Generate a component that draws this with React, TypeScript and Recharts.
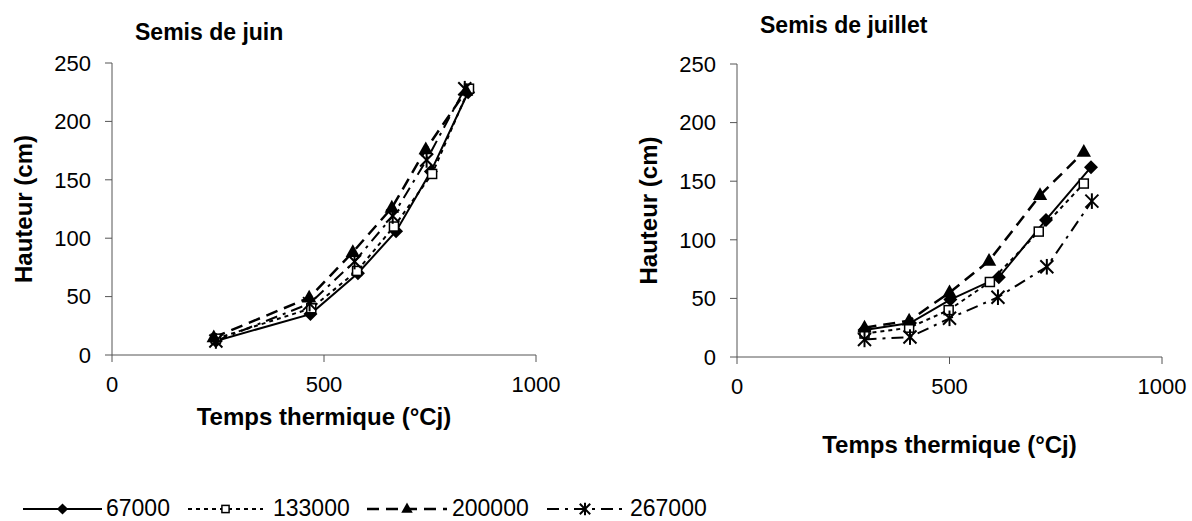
import React from "react";
import { LineChart, Line, XAxis, YAxis } from "recharts";

const FONT = '"Liberation Sans", Arial, sans-serif';
const INK = "#000000";
const AXIS = "#555555";

// Temps thermique (°Cj) et hauteur (cm) — semis de juin
const juinTT67 = [245, 468, 580, 670, 752, 840];
const juinH67 = [12, 35, 70, 106, 157, 225];
const juinTT133 = [245, 470, 578, 665, 755, 842];
const juinH133 = [14, 40, 72, 110, 155, 228];
const juinTT200 = [240, 465, 568, 660, 740, 835];
const juinH200 = [15, 49, 88, 126, 176, 226];
const juinTT267 = [245, 466, 572, 662, 742, 832];
const juinH267 = [12, 44, 80, 119, 167, 228];

// semis de juillet
const juilTT67 = [300, 407, 502, 616, 727, 833];
const juilH67 = [23, 29, 49, 68, 117, 162];
const juilTT133 = [300, 405, 498, 595, 710, 816];
const juilH133 = [20, 25, 40, 64, 107, 148];
const juilTT200 = [300, 405, 500, 593, 713, 816];
const juilH200 = [25, 31, 55, 82, 138, 175];
const juilTT267 = [300, 407, 500, 614, 729, 835];
const juilH267 = [15, 17, 33, 51, 77, 133];

const X_TICKS = [0, 500, 1000];
const Y_TICKS = [0, 50, 100, 150, 200, 250];
const DENSITIES = ["67000", "133000", "200000", "267000"];

const zip = (xs: number[], ys: number[]) => xs.map((x, i) => ({ x, y: ys[i] }));

type MarkerKind = "diamond" | "square" | "triangle" | "star";

function Marker({ kind, cx, cy, s = 1 }: { kind: MarkerKind; cx: number; cy: number; s?: number }) {
  if (kind === "diamond") {
    const r = 7 * s;
    return <path d={`M${cx},${cy - r}L${cx + r},${cy}L${cx},${cy + r}L${cx - r},${cy}Z`} fill={INK} />;
  }
  if (kind === "square") {
    const r = 4.5 * s;
    return <rect x={cx - r} y={cy - r} width={2 * r} height={2 * r} fill="#fff" stroke={INK} strokeWidth={1.5} />;
  }
  if (kind === "triangle") {
    const r = 8 * s;
    return <path d={`M${cx},${cy - r}L${cx + r * 0.9},${cy + r * 0.6}L${cx - r * 0.9},${cy + r * 0.6}Z`} fill={INK} />;
  }
  const r = 6.5 * s;
  return (
    <g stroke={INK} strokeWidth={2}>
      <line x1={cx - r} y1={cy - r} x2={cx + r} y2={cy + r} />
      <line x1={cx - r} y1={cy + r} x2={cx + r} y2={cy - r} />
      <line x1={cx} y1={cy - r * 1.2} x2={cx} y2={cy + r * 1.2} />
    </g>
  );
}

const SERIES: { kind: MarkerKind; dash?: string; width: number }[] = [
  { kind: "diamond", width: 2 },
  { kind: "square", dash: "4 4", width: 2 },
  { kind: "triangle", dash: "12 7", width: 2.5 },
  { kind: "star", dash: "12 6 3 6", width: 2 },
];

const dotFor = (kind: MarkerKind) => (p: any) => (
  <g key={`${kind}-${p.index}`}>
    <Marker kind={kind} cx={p.cx} cy={p.cy} />
  </g>
);

const tickStyle = { fill: INK, fontSize: 22, fontFamily: FONT };
const labelStyle = { fill: INK, fontSize: 24, fontWeight: 700, fontFamily: FONT, textAnchor: "middle" as const };

function Panel({ data, margin, xLabelOffset }: {
  data: { x: number; y: number }[][];
  margin: { top: number; right: number; left: number; bottom: number };
  xLabelOffset: number;
}) {
  return (
    <LineChart width={580} height={470} margin={margin}>
      <XAxis
        type="number" dataKey="x" domain={[0, 1000]} ticks={X_TICKS} height={70}
        tickSize={7} tickMargin={14} stroke={AXIS} tick={tickStyle}
        label={{ value: "Temps thermique (°Cj)", position: "insideBottom", offset: xLabelOffset, style: labelStyle }}
      />
      <YAxis
        type="number" domain={[0, 250]} ticks={Y_TICKS} width={70}
        tickSize={7} tickMargin={14} stroke={AXIS} tick={tickStyle}
        label={{ value: "Hauteur (cm)", angle: -90, position: "insideLeft", offset: -19, style: labelStyle }}
      />
      {SERIES.map((s, i) => (
        <Line
          key={DENSITIES[i]} data={data[i]} dataKey="y" name={DENSITIES[i]}
          stroke={INK} strokeWidth={s.width} strokeDasharray={s.dash}
          dot={dotFor(s.kind)} activeDot={false} isAnimationActive={false}
        />
      ))}
    </LineChart>
  );
}

export default function App() {
  const juin = [zip(juinTT67, juinH67), zip(juinTT133, juinH133), zip(juinTT200, juinH200), zip(juinTT267, juinH267)];
  const juil = [zip(juilTT67, juilH67), zip(juilTT133, juilH133), zip(juilTT200, juilH200), zip(juilTT267, juilH267)];

  // légende : trait, marqueur, texte
  const legend = [
    { x1: 23, x2: 102, text: 106 },
    { x1: 188, x2: 263, text: 273 },
    { x1: 367, x2: 447, text: 452 },
    { x1: 547, x2: 623, text: 630 },
  ];

  return (
    <div style={{ position: "fixed", left: 0, top: 0, width: 1192, height: 521, background: "#fff", fontFamily: FONT }}>
      <div style={{ position: "absolute", left: 0, top: 0 }}>
        <Panel data={juin} margin={{ top: 63, right: 44, left: 42, bottom: 45 }} xLabelOffset={0} />
      </div>
      <div style={{ position: "absolute", left: 620, top: 0 }}>
        <Panel data={juil} margin={{ top: 64, right: 38, left: 47, bottom: 43 }} xLabelOffset={-26} />
      </div>
      <svg width={1192} height={521} style={{ position: "absolute", left: 0, top: 0, pointerEvents: "none" }}>
        <text x={135} y={40} fontSize={23} fontWeight={700} fontFamily={FONT} fill={INK}>Semis de juin</text>
        <text x={760} y={33} fontSize={23} fontWeight={700} fontFamily={FONT} fill={INK}>Semis de juillet</text>
        {legend.map((l, i) => (
          <g key={DENSITIES[i]}>
            <line x1={l.x1} x2={l.x2} y1={509} y2={509} stroke={INK} strokeWidth={SERIES[i].width} strokeDasharray={SERIES[i].dash} />
            <Marker kind={SERIES[i].kind} cx={(l.x1 + l.x2) / 2} cy={509} s={0.8} />
            <text x={l.text} y={516} fontSize={23} fontFamily={FONT} fill={INK}>{DENSITIES[i]}</text>
          </g>
        ))}
      </svg>
    </div>
  );
}
